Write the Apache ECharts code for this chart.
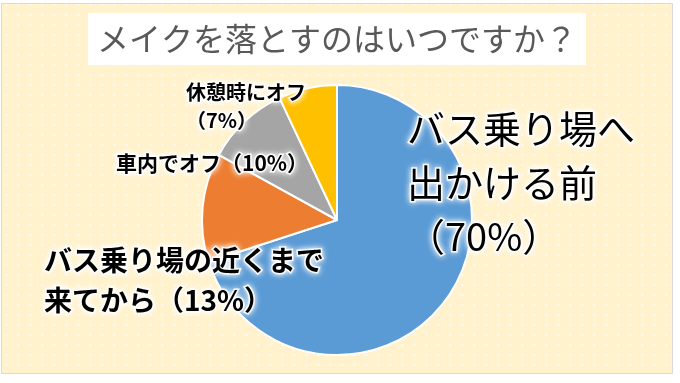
<!DOCTYPE html>
<html>
<head>
<meta charset="utf-8">
<script src="https://cdn.jsdelivr.net/npm/echarts@6/dist/echarts.min.js"></script>
<style>
html,body{margin:0;padding:0;background:#fff;}
#chart{width:680px;height:383px;}
</style>
</head>
<body>
<div id="chart"></div>
<script>
// ---- data ----
var titleText = 'メイクを落とすのはいつですか？';
var categories = ['バス乗り場へ\n出かける前\n', 'バス乗り場の近くまで\n来てから', '車内でオフ', '休憩時にオフ\n'];
var percentText = ['（70%）', '（13%）', '（10%）', '（7%）'];
var values = [70, 13, 10, 7];
var colors = ['#5B9BD5', '#ED7D31', '#A5A5A5', '#FFC000'];

// ---- label layout (positions only) ----
var labelPos = [
  {x: 407, y: 183, size: 38, lh: 54, weight: 'normal'},
  {x: 44, y: 280, size: 28, lh: 40, weight: 'bold'},
  {x: 116, y: 163, size: 21, lh: 28, weight: 'bold'},
  {x: 186, y: 106, size: 20, lh: 28, weight: 'bold'}
];

// dotted background pattern
var pc = document.createElement('canvas');
pc.width = 12; pc.height = 10;
var pctx = pc.getContext('2d');
pctx.fillStyle = '#FFF2CC';
pctx.fillRect(0, 0, 12, 10);
pctx.fillStyle = 'rgba(255,255,255,0.95)';
pctx.fillRect(6, 4, 1, 2);

var chart = echarts.init(document.getElementById('chart'), null, {renderer: 'canvas'});
var fontFamily = '"Noto Sans CJK JP", "Noto Sans", sans-serif';

var data = values.map(function (v, i) {
  var p = labelPos[i];
  return {
    name: categories[i],
    value: v,
    itemStyle: {color: colors[i]},
    label: {
      fontSize: p.size,
      lineHeight: p.lh,
      fontWeight: p.weight
    }
  };
});

chart.setOption({
  backgroundColor: '#ffffff',
  animation: false,
  graphic: [{
    type: 'rect',
    z: -10,
    silent: true,
    shape: {x: 1.5, y: 3.5, width: 671, height: 370},
    style: {fill: {image: pc, repeat: 'repeat'}, stroke: '#D9D9D9', lineWidth: 1}
  }],
  title: {
    text: titleText,
    left: 88,
    top: 13,
    padding: [10, 9, 10, 9],
    backgroundColor: '#ffffff',
    textStyle: {
      fontFamily: fontFamily,
      fontSize: 32,
      lineHeight: 32,
      fontWeight: 'normal',
      color: '#595959'
    }
  },
  series: [{
    type: 'pie',
    center: [337, 220],
    radius: [0, 135],
    startAngle: 90,
    clockwise: true,
    data: data,
    itemStyle: {borderColor: '#ffffff', borderWidth: 2},
    emphasis: {disabled: true},
    labelLine: {show: false},
    label: {
      show: true,
      position: 'outside',
      alignTo: 'none',
      overflow: 'none',
      width: 400,
      color: '#000000',
      fontFamily: fontFamily,
      textBorderColor: 'rgba(255,255,255,0.9)',
      textBorderWidth: 3,
      textShadowColor: '#ffffff',
      textShadowBlur: 6,
      formatter: function (p) {
        return p.name + percentText[p.dataIndex];
      }
    },
    labelLayout: function (params) {
      var p = labelPos[params.dataIndex];
      return {x: p.x, y: p.y, align: 'left', verticalAlign: 'middle', moveOverlap: null, hideOverlap: false};
    }
  }]
});
</script>
</body>
</html>
